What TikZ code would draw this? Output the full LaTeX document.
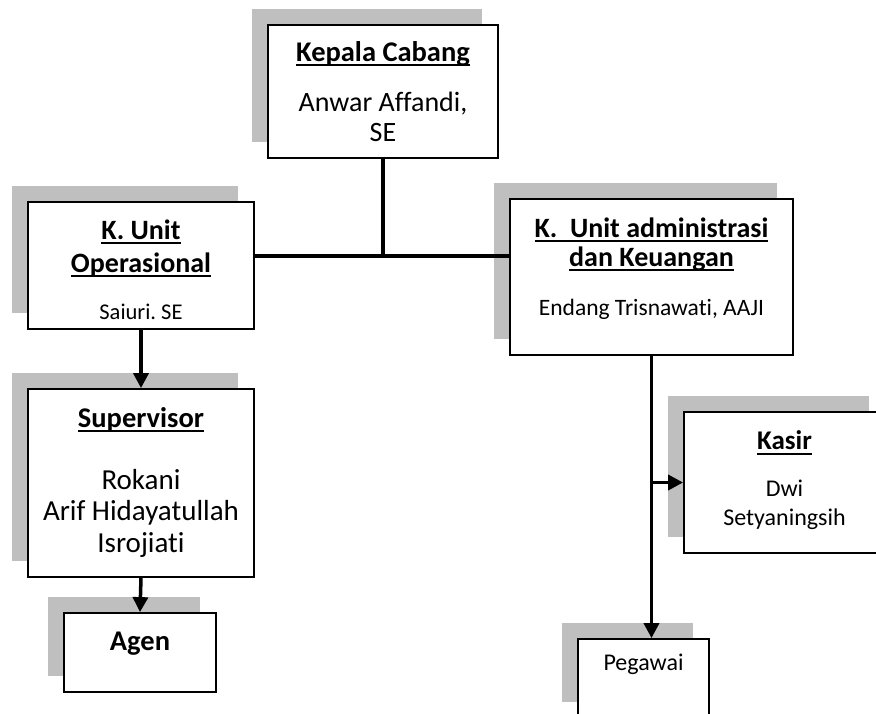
\documentclass[tikz,border=0pt]{standalone}
\usepackage{fontspec}
\setmainfont{Carlito}[Ligatures=NoCommon]
\usetikzlibrary{arrows.meta,calc,positioning,shadows}
\definecolor{bayang}{RGB}{191,191,191}
\newsavebox{\gbbox}
\newcommand{\gb}[1]{\sbox{\gbbox}{#1}\rlap{\rule[-5pt]{\wd\gbbox}{2pt}}\usebox{\gbbox}}
\frenchspacing

\begin{document}
\begin{tikzpicture}
  [
    x=1pt, y=-1pt,
    kotak/.style =
      {draw, line width=1.8pt, fill=white, inner sep=0pt,
       general shadow={fill=bayang, draw=none, shadow xshift=-16pt, shadow yshift=16pt}},
    judul/.style =
      {anchor=base, align=center, inner sep=0pt, font=\bfseries\fontsize{28.5}{30}\selectfont},
    isi/.style =
      {anchor=base, align=center, inner sep=0pt, font=\fontsize{28}{30}\selectfont},
    kecil/.style =
      {isi, font=\fontsize{24}{29.5}\selectfont},
    garis/.style =
      {line width=3.5pt},
    panah/.style =
      {garis, -{Triangle[length=15pt, width=15pt]}}
  ]

\clip (0,0) rectangle (876,713);

% kotak jabatan
\node[kotak, minimum width=230pt, minimum height=133pt] (kc) at (383,91.5) {};
\node[kotak, minimum width=226pt, minimum height=127pt] (op) at (141,265.5) {};
\node[kotak, minimum width=283pt, minimum height=156pt] (adm) at (651.5,277) {};
\node[kotak, minimum width=226pt, minimum height=188pt] (sup) at (141,483) {};
\node[kotak, minimum width=152pt, minimum height=79pt] (agen) at (140,652.5) {};
\node[kotak, minimum width=201pt, minimum height=141pt] (kasir) at (784.5,482.5) {};
\node[kotak, minimum width=131pt, minimum height=79pt] (peg) at (643.5,678.5) {};

% isi kotak (base = baris terakhir)
\node[judul] (kcj) at ($(kc.north)+(0,37)$) {\gb{Kepala Cabang}};
\node[isi] (kci) at ($(kc.north)+(0,117)$) {Anwar Affandi,\\SE};

\node[judul, font=\bfseries\fontsize{28}{33}\selectfont] (opj) at ($(op.north)+(0,71)$) {\gb{K. Unit}\\\gb{Operasional}};
\node[kecil, font=\fontsize{22.5}{28}\selectfont] (opi) at ($(op.north)+(0,118)$) {Saiuri. SE};

\node[judul, font=\bfseries\fontsize{28}{29}\selectfont] (admj) at ($(adm.north)+(0,68)$) {\gb{K.\ \ Unit administrasi}\\\gb{dan Keuangan}};
\node[kecil, font=\fontsize{23.5}{29}\selectfont] (admi) at ($(adm.north)+(0,117)$) {Endang Trisnawati, AAJI};

\node[judul] (supj) at ($(sup.north)+(0,39)$) {\gb{Supervisor}};
\node[isi, font=\fontsize{29}{31.5}\selectfont] (supi) at ($(sup.north)+(0,164)$) {Rokani\\Arif Hidayatullah\\Isrojiati};

\node[judul] (agenj) at ($(agen.north)+(0,38.7)$) {Agen};

\node[judul, font=\bfseries\fontsize{27}{30}\selectfont] (kasirj) at ($(kasir.north)+(0,38.7)$) {\gb{Kasir}};
\node[kecil] (kasiri) at ($(kasir.north)+(0,114.7)$) {Dwi\\Setyaningsih};

\node[kecil] (pegi) at ($(peg.north)+(0,32.7)$) {Pegawai};

% garis hubung
\coordinate (tengah) at ($(kc.south)+(0,97)$);
\coordinate (cabang) at (adm.south |- kasir.west);

\draw[garis] (kc.south) -- (tengah);
\draw[garis] (op.east |- tengah) -- (adm.west |- tengah);
\draw[panah] (op.south) -- (sup.north);
\draw[panah] (sup.south) -- (agen.north);
\draw[panah] (adm.south) -- (adm.south |- peg.north);
\draw[panah] (cabang) -- (kasir.west);

\end{tikzpicture}
\end{document}
